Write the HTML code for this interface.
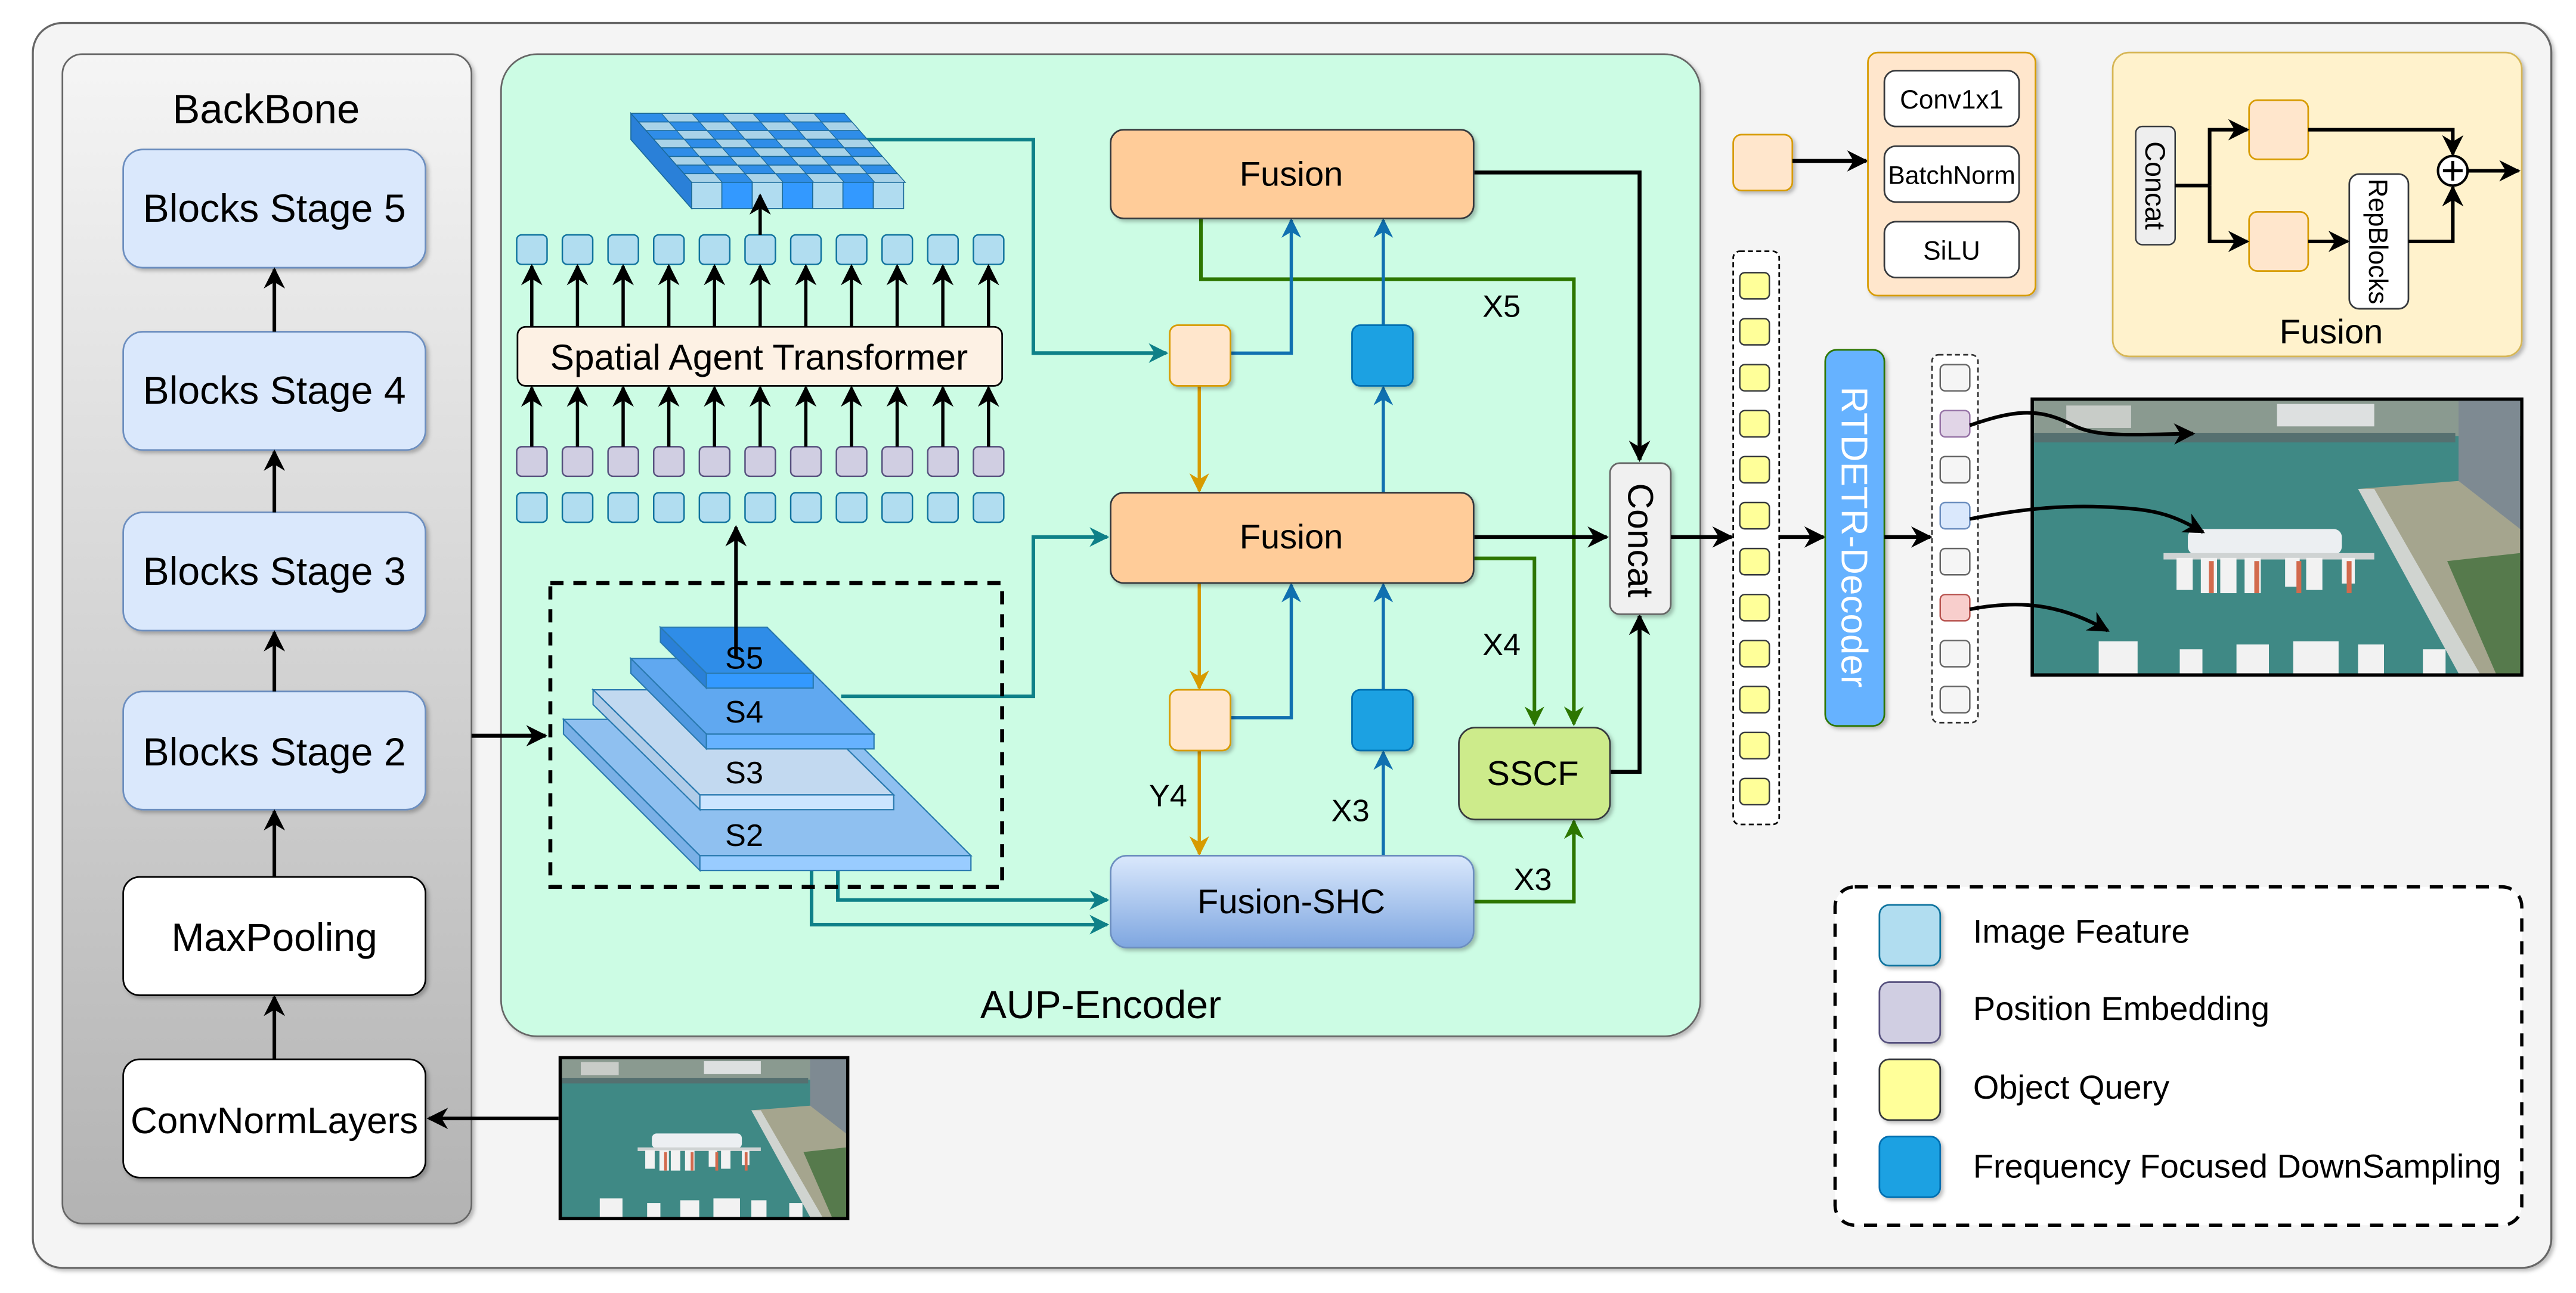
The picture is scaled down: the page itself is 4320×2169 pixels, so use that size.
<!DOCTYPE html>
<html><head><meta charset="utf-8"><style>
html,body{margin:0;padding:0;background:#fff;}
svg{display:block;}
text{font-family:"Liberation Sans",Arial,sans-serif;fill:#000;}
</style></head><body>
<svg width="4320" height="2169" viewBox="0 0 1568 787.3" preserveAspectRatio="none" xmlns="http://www.w3.org/2000/svg">
<defs>
<marker id="ak2" viewBox="0 0 10 10" refX="9" refY="5" markerWidth="13" markerHeight="13" orient="auto" markerUnits="userSpaceOnUse"><path d="M0,0 L10,5 L0,10 L3,5 z" fill="#000"/></marker>
<marker id="at" viewBox="0 0 10 10" refX="9" refY="5" markerWidth="12" markerHeight="12" orient="auto" markerUnits="userSpaceOnUse"><path d="M0,0 L10,5 L0,10 L3,5 z" fill="#0e8088"/></marker>
<marker id="ab" viewBox="0 0 10 10" refX="9" refY="5" markerWidth="12" markerHeight="12" orient="auto" markerUnits="userSpaceOnUse"><path d="M0,0 L10,5 L0,10 L3,5 z" fill="#1070b0"/></marker>
<marker id="ao" viewBox="0 0 10 10" refX="9" refY="5" markerWidth="12" markerHeight="12" orient="auto" markerUnits="userSpaceOnUse"><path d="M0,0 L10,5 L0,10 L3,5 z" fill="#d79b00"/></marker>
<marker id="ag" viewBox="0 0 10 10" refX="9" refY="5" markerWidth="12" markerHeight="12" orient="auto" markerUnits="userSpaceOnUse"><path d="M0,0 L10,5 L0,10 L3,5 z" fill="#2d7600"/></marker>
<linearGradient id="bbg" x1="0" y1="0" x2="0" y2="1"><stop offset="0" stop-color="#f5f5f5"/><stop offset="1" stop-color="#b3b3b3"/></linearGradient>
<linearGradient id="shc" x1="0" y1="0" x2="0" y2="1"><stop offset="0" stop-color="#dae8fc"/><stop offset="1" stop-color="#7ea6e0"/></linearGradient>
<pattern id="chk" patternUnits="userSpaceOnUse" width="37.14" height="10.5">
<rect width="37.14" height="10.5" fill="#a9d3e8"/>
<rect width="18.57" height="5.25" fill="#2f8de8"/>
<rect x="18.57" y="5.25" width="18.57" height="5.25" fill="#2f8de8"/>
</pattern>
<symbol id="photo" viewBox="0 0 300 170" preserveAspectRatio="none">
<rect width="300" height="170" fill="#3f8985"/>
<rect width="300" height="22" fill="#8a9a90"/>
<rect x="20" y="3" width="40" height="14" fill="#c8ccc8"/>
<rect x="150" y="2" width="60" height="14" fill="#dde0e0"/>
<rect x="0" y="20" width="260" height="6" fill="#557070"/>
<rect x="262" y="0" width="38" height="100" fill="#7e8a92"/>
<polygon points="200,55 262,50 300,80 300,170 265,170" fill="#a5a58e"/>
<polygon points="200,55 210,55 275,170 262,170" fill="#d0d4d0"/>
<polygon points="255,100 300,95 300,170 285,170" fill="#567a4c"/>
<rect x="95" y="80" width="95" height="16" rx="5" fill="#eceff2"/>
<rect x="80" y="95" width="130" height="4" fill="#cfd3d3"/>
<g fill="#f2f2f2"><rect x="88" y="98" width="10" height="20"/><rect x="103" y="98" width="10" height="22"/><rect x="115" y="98" width="10" height="22"/><rect x="130" y="98" width="10" height="22"/><rect x="155" y="98" width="9" height="18"/><rect x="168" y="98" width="10" height="20"/><rect x="190" y="98" width="8" height="16"/>
<rect x="40" y="150" width="24" height="20"/><rect x="90" y="155" width="14" height="15"/><rect x="125" y="152" width="20" height="18"/><rect x="160" y="150" width="28" height="20"/><rect x="200" y="152" width="16" height="18"/><rect x="240" y="155" width="14" height="15"/></g>
<g fill="#d26a4d"><rect x="108" y="100" width="3" height="20"/><rect x="136" y="100" width="3" height="20"/><rect x="162" y="100" width="3" height="20"/><rect x="193" y="100" width="3" height="20"/></g>
</symbol>
<filter id="sh" x="-10%" y="-10%" width="130%" height="130%"><feDropShadow dx="1.5" dy="1.5" stdDeviation="1.2" flood-color="#000" flood-opacity="0.25"/></filter>
</defs>

<rect width="1568" height="787.3" fill="#fff"/>
<rect x="20" y="14" width="1533" height="758" rx="18" fill="#f4f4f4" stroke="#666" stroke-width="1.2" filter="url(#sh)"/>

<rect x="38" y="33" width="249" height="712" rx="12" fill="url(#bbg)" stroke="#666" stroke-width="1" filter="url(#sh)"/>
<text x="162" y="75" font-size="25" text-anchor="middle">BackBone</text>
<g stroke="#6c8ebf" stroke-width="1" fill="#dae8fc" filter="url(#sh)">
<rect x="75" y="91" width="184" height="72" rx="12"/>
<rect x="75" y="202" width="184" height="72" rx="12"/>
<rect x="75" y="312" width="184" height="72" rx="12"/>
<rect x="75" y="421" width="184" height="72" rx="12"/>
</g>
<g stroke="#000" stroke-width="1" fill="#fff" filter="url(#sh)">
<rect x="75" y="534" width="184" height="72" rx="10"/>
<rect x="75" y="645" width="184" height="72" rx="10"/>
</g>
<g font-size="24" text-anchor="middle">
<text x="167" y="135">Blocks Stage 5</text>
<text x="167" y="246">Blocks Stage 4</text>
<text x="167" y="356">Blocks Stage 3</text>
<text x="167" y="466">Blocks Stage 2</text>
<text x="167" y="579">MaxPooling</text>
<text x="167" y="690" font-size="22.5">ConvNormLayers</text>
</g>
<g stroke="#000" stroke-width="2.2" marker-end="url(#ak2)">
<line x1="167" y1="202" x2="167" y2="164"/>
<line x1="167" y1="312" x2="167" y2="275"/>
<line x1="167" y1="421" x2="167" y2="385"/>
<line x1="167" y1="534" x2="167" y2="494"/>
<line x1="167" y1="645" x2="167" y2="607"/>
<line x1="340" y1="681" x2="261" y2="681"/>
</g>
<rect x="340" y="643" width="177" height="100" fill="#000"/>
<use href="#photo" x="342" y="645" width="173" height="96"/>

<rect x="305" y="33" width="730" height="598" rx="22" fill="#ccfce4" stroke="#666" stroke-width="1" filter="url(#sh)"/>
<text x="670" y="620" font-size="24" text-anchor="middle">AUP-Encoder</text>
<line x1="287" y1="448" x2="332" y2="448" stroke="#000" stroke-width="2.5" marker-end="url(#ak2)"/>

<g fill="none" stroke="#0e8088" stroke-width="2.2">
<path d="M518,85 H629 V215 H710" marker-end="url(#at)"/>
<path d="M512,424 H629 V327 H674" marker-end="url(#at)"/>
<path d="M510,527 V548 H674" marker-end="url(#at)"/>
<path d="M494,493 V563 H674" marker-end="url(#at)"/>
</g>

<rect x="335" y="355" width="275" height="185" fill="none" stroke="#000" stroke-width="2.4" stroke-dasharray="8,6"/>

<g stroke="#2a7ab0" stroke-width="0.8">
<polygon points="343,438 508,438 591,521 426,521" fill="#8fc0f0"/>
<polygon points="343,438 426,521 426,530 343,447" fill="#7ab0e6"/>
<rect x="426" y="521" width="165" height="9" fill="#99ccff"/>
<polygon points="361,420 479,420 544,484 426,484" fill="#c2d9f0"/>
<polygon points="361,420 426,484 426,493 361,429" fill="#b0cce8"/>
<rect x="426" y="484" width="118" height="9" fill="#cce5ff"/>
<polygon points="384,401 486,401 532,447 430,447" fill="#60a8f0"/>
<polygon points="384,401 430,447 430,456 384,410" fill="#4f98e0"/>
<rect x="430" y="447" width="102" height="9" fill="#66b2ff"/>
<polygon points="402,382 467,382 495,410 430,410" fill="#2f8de8"/>
<polygon points="402,382 430,410 430,419 402,391" fill="#2a80d8"/>
<rect x="430" y="410" width="65" height="9" fill="#3399ff"/>
</g>
<g font-size="19" text-anchor="middle">
<text x="453" y="407">S5</text>
<text x="453" y="440">S4</text>
<text x="453" y="477">S3</text>
<text x="453" y="515">S2</text>
</g>
<line x1="448" y1="400" x2="448" y2="321" stroke="#000" stroke-width="2.2" marker-end="url(#ak2)"/>

<g stroke="#1a6a9a" stroke-width="0.6">
<polygon points="384,69 421,111 421,127 384,85" fill="#2a80d8"/>
<g transform="translate(384,69) skewX(41.38)"><rect width="130" height="42" fill="url(#chk)"/>
<g fill="none"><path d="M18.57,0V42M37.14,0V42M55.71,0V42M74.28,0V42M92.85,0V42M111.42,0V42M0,5.25H130M0,10.5H130M0,15.75H130M0,21H130M0,26.25H130M0,31.5H130M0,36.75H130"/><rect width="130" height="42"/></g></g>
<rect x="421" y="111" width="18.43" height="16" fill="#b0dcf0"/>
<rect x="439.4" y="111" width="18.43" height="16" fill="#3399ff"/>
<rect x="457.9" y="111" width="18.43" height="16" fill="#b0dcf0"/>
<rect x="476.3" y="111" width="18.43" height="16" fill="#3399ff"/>
<rect x="494.7" y="111" width="18.43" height="16" fill="#b0dcf0"/>
<rect x="513.1" y="111" width="18.43" height="16" fill="#3399ff"/>
<rect x="531.6" y="111" width="18.43" height="16" fill="#b0dcf0"/>
</g>

<g stroke="#10739e" stroke-width="0.9" fill="#b1ddf0">
<rect x="314.5" y="143" width="18.5" height="18" rx="3"/><rect x="342.3" y="143" width="18.5" height="18" rx="3"/><rect x="370.1" y="143" width="18.5" height="18" rx="3"/><rect x="397.9" y="143" width="18.5" height="18" rx="3"/><rect x="425.7" y="143" width="18.5" height="18" rx="3"/><rect x="453.5" y="143" width="18.5" height="18" rx="3"/><rect x="481.3" y="143" width="18.5" height="18" rx="3"/><rect x="509.1" y="143" width="18.5" height="18" rx="3"/><rect x="536.9" y="143" width="18.5" height="18" rx="3"/><rect x="564.7" y="143" width="18.5" height="18" rx="3"/><rect x="592.5" y="143" width="18.5" height="18" rx="3"/>
<rect x="314.5" y="300" width="18.5" height="18" rx="3"/><rect x="342.3" y="300" width="18.5" height="18" rx="3"/><rect x="370.1" y="300" width="18.5" height="18" rx="3"/><rect x="397.9" y="300" width="18.5" height="18" rx="3"/><rect x="425.7" y="300" width="18.5" height="18" rx="3"/><rect x="453.5" y="300" width="18.5" height="18" rx="3"/><rect x="481.3" y="300" width="18.5" height="18" rx="3"/><rect x="509.1" y="300" width="18.5" height="18" rx="3"/><rect x="536.9" y="300" width="18.5" height="18" rx="3"/><rect x="564.7" y="300" width="18.5" height="18" rx="3"/><rect x="592.5" y="300" width="18.5" height="18" rx="3"/>
</g>
<g stroke="#56517e" stroke-width="0.9" fill="#d0cee2">
<rect x="314.5" y="272" width="18.5" height="18" rx="3"/><rect x="342.3" y="272" width="18.5" height="18" rx="3"/><rect x="370.1" y="272" width="18.5" height="18" rx="3"/><rect x="397.9" y="272" width="18.5" height="18" rx="3"/><rect x="425.7" y="272" width="18.5" height="18" rx="3"/><rect x="453.5" y="272" width="18.5" height="18" rx="3"/><rect x="481.3" y="272" width="18.5" height="18" rx="3"/><rect x="509.1" y="272" width="18.5" height="18" rx="3"/><rect x="536.9" y="272" width="18.5" height="18" rx="3"/><rect x="564.7" y="272" width="18.5" height="18" rx="3"/><rect x="592.5" y="272" width="18.5" height="18" rx="3"/>
</g>
<rect x="315" y="199" width="295" height="36" rx="5" fill="#fdf1e4" stroke="#000" stroke-width="1"/>
<text x="462" y="225" font-size="22" text-anchor="middle">Spatial Agent Transformer</text>
<g stroke="#000" stroke-width="2" marker-end="url(#ak2)">
<line x1="323.7" y1="199" x2="323.7" y2="162"/><line x1="351.5" y1="199" x2="351.5" y2="162"/><line x1="379.3" y1="199" x2="379.3" y2="162"/><line x1="407.1" y1="199" x2="407.1" y2="162"/><line x1="434.9" y1="199" x2="434.9" y2="162"/><line x1="462.7" y1="199" x2="462.7" y2="162"/><line x1="490.5" y1="199" x2="490.5" y2="162"/><line x1="518.3" y1="199" x2="518.3" y2="162"/><line x1="546.1" y1="199" x2="546.1" y2="162"/><line x1="573.9" y1="199" x2="573.9" y2="162"/><line x1="601.7" y1="199" x2="601.7" y2="162"/>
<line x1="323.7" y1="272" x2="323.7" y2="236"/><line x1="351.5" y1="272" x2="351.5" y2="236"/><line x1="379.3" y1="272" x2="379.3" y2="236"/><line x1="407.1" y1="272" x2="407.1" y2="236"/><line x1="434.9" y1="272" x2="434.9" y2="236"/><line x1="462.7" y1="272" x2="462.7" y2="236"/><line x1="490.5" y1="272" x2="490.5" y2="236"/><line x1="518.3" y1="272" x2="518.3" y2="236"/><line x1="546.1" y1="272" x2="546.1" y2="236"/><line x1="573.9" y1="272" x2="573.9" y2="236"/><line x1="601.7" y1="272" x2="601.7" y2="236"/>
<line x1="462.7" y1="143" x2="462.7" y2="119"/>
</g>

<g fill="none" stroke="#2d7600" stroke-width="2.2">
<path d="M731,133 V170 H958 V441" marker-end="url(#ag)"/>
<path d="M897,340 H934 V441" marker-end="url(#ag)"/>
<path d="M897,549 H958 V500" marker-end="url(#ag)"/>
</g>
<g fill="none" stroke="#000" stroke-width="2.4">
<path d="M897,105 H998 V280" marker-end="url(#ak2)"/>
<path d="M897,327 H978" marker-end="url(#ak2)"/>
<path d="M979,470 H998 V375" marker-end="url(#ak2)"/>
</g>
<g fill="none" stroke="#d79b00" stroke-width="2">
<path d="M730,235 V299" marker-end="url(#ao)"/>
<path d="M730,355 V419" marker-end="url(#ao)"/>
<path d="M730,457 V520" marker-end="url(#ao)"/>
</g>
<g fill="none" stroke="#1070b0" stroke-width="2">
<path d="M749,215 H786 V134" marker-end="url(#ab)"/>
<path d="M842,198 V134" marker-end="url(#ab)"/>
<path d="M842,300 V236" marker-end="url(#ab)"/>
<path d="M749,437 H786 V356" marker-end="url(#ab)"/>
<path d="M842,420 V356" marker-end="url(#ab)"/>
<path d="M842,521 V458" marker-end="url(#ab)"/>
</g>

<g filter="url(#sh)">
<rect x="676" y="79" width="221" height="54" rx="8" fill="#ffcc99" stroke="#36393d" stroke-width="1"/>
<rect x="676" y="300" width="221" height="55" rx="8" fill="#ffcc99" stroke="#36393d" stroke-width="1"/>
<rect x="676" y="521" width="221" height="56" rx="10" fill="url(#shc)" stroke="#6c8ebf" stroke-width="1"/>
<rect x="712" y="198" width="37" height="37" rx="5" fill="#ffe6cc" stroke="#d79b00" stroke-width="1"/>
<rect x="712" y="420" width="37" height="37" rx="5" fill="#ffe6cc" stroke="#d79b00" stroke-width="1"/>
<rect x="823" y="198" width="37" height="37" rx="5" fill="#1ba1e2" stroke="#006eaf" stroke-width="1"/>
<rect x="823" y="420" width="37" height="37" rx="5" fill="#1ba1e2" stroke="#006eaf" stroke-width="1"/>
<rect x="888" y="443" width="92" height="56" rx="10" fill="#cdeb8b" stroke="#36393d" stroke-width="1"/>
<rect x="980" y="282" width="37" height="92" rx="6" fill="#f0f0f0" stroke="#666" stroke-width="1"/>
</g>
<g font-size="21" text-anchor="middle">
<text x="786" y="113">Fusion</text>
<text x="786" y="334">Fusion</text>
<text x="786" y="556">Fusion-SHC</text>
<text x="933" y="478">SSCF</text>
</g>
<text transform="translate(991,329) rotate(90)" font-size="22" text-anchor="middle">Concat</text>
<g font-size="19" text-anchor="middle">
<text x="914" y="193">X5</text>
<text x="914" y="399">X4</text>
<text x="711" y="491">Y4</text>
<text x="822" y="500">X3</text>
<text x="933" y="542">X3</text>
</g>

<line x1="1017" y1="327" x2="1054" y2="327" stroke="#000" stroke-width="2.4" marker-end="url(#ak2)"/>
<rect x="1055" y="153" width="28" height="349" rx="4" fill="#fff" stroke="#000" stroke-width="1" stroke-dasharray="3,2"/>
<g fill="#ffff99" stroke="#36393d" stroke-width="0.9">
<rect x="1059" y="166" width="18" height="16" rx="3"/><rect x="1059" y="194" width="18" height="16" rx="3"/><rect x="1059" y="222" width="18" height="16" rx="3"/><rect x="1059" y="250" width="18" height="16" rx="3"/><rect x="1059" y="278" width="18" height="16" rx="3"/><rect x="1059" y="306" width="18" height="16" rx="3"/><rect x="1059" y="334" width="18" height="16" rx="3"/><rect x="1059" y="362" width="18" height="16" rx="3"/><rect x="1059" y="390" width="18" height="16" rx="3"/><rect x="1059" y="418" width="18" height="16" rx="3"/><rect x="1059" y="446" width="18" height="16" rx="3"/><rect x="1059" y="474" width="18" height="16" rx="3"/>
</g>
<line x1="1083" y1="327" x2="1110" y2="327" stroke="#000" stroke-width="2.4" marker-end="url(#ak2)"/>
<rect x="1111" y="213" width="36" height="229" rx="7" fill="#66b2ff" stroke="#2d7600" stroke-width="1" filter="url(#sh)"/>
<text transform="translate(1121,327) rotate(90)" font-size="22.5" text-anchor="middle" style="fill:#fff">RTDETR-Decoder</text>
<line x1="1147" y1="327" x2="1175" y2="327" stroke="#000" stroke-width="2.4" marker-end="url(#ak2)"/>
<rect x="1176" y="216" width="28" height="224" rx="4" fill="#fff" stroke="#333" stroke-width="1" stroke-dasharray="3,2"/>
<g stroke-width="0.9">
<rect x="1181" y="222" width="18" height="16" rx="3" fill="#f5f5f5" stroke="#666"/>
<rect x="1181" y="250" width="18" height="16" rx="3" fill="#e1d5e7" stroke="#9673a6"/>
<rect x="1181" y="278" width="18" height="16" rx="3" fill="#f5f5f5" stroke="#666"/>
<rect x="1181" y="306" width="18" height="16" rx="3" fill="#dae8fc" stroke="#6c8ebf"/>
<rect x="1181" y="334" width="18" height="16" rx="3" fill="#f5f5f5" stroke="#666"/>
<rect x="1181" y="362" width="18" height="16" rx="3" fill="#f8cecc" stroke="#b85450"/>
<rect x="1181" y="390" width="18" height="16" rx="3" fill="#f5f5f5" stroke="#666"/>
<rect x="1181" y="418" width="18" height="16" rx="3" fill="#f5f5f5" stroke="#666"/>
</g>
<rect x="1236" y="242" width="300" height="170" fill="#000"/>
<use href="#photo" x="1238" y="244" width="296" height="166"/>
<g fill="none" stroke="#000" stroke-width="2.2" marker-end="url(#ak2)">
<path d="M1199,259 C1225,250 1240,248 1260,258 C1275,266 1290,265 1335,264"/>
<path d="M1199,316 C1230,310 1260,306 1300,310 C1320,312 1330,318 1341,324"/>
<path d="M1199,371 C1230,365 1255,368 1283,384"/>
</g>

<rect x="1055" y="82" width="36" height="34" rx="5" fill="#ffe6cc" stroke="#d79b00" stroke-width="1" filter="url(#sh)"/>
<line x1="1091" y1="98" x2="1136" y2="98" stroke="#000" stroke-width="2.4" marker-end="url(#ak2)"/>
<rect x="1137" y="32" width="102" height="148" rx="6" fill="#ffe6cc" stroke="#d79b00" stroke-width="1" filter="url(#sh)"/>
<g fill="#fff" stroke="#36393d" stroke-width="1">
<rect x="1147" y="43" width="82" height="34" rx="7"/>
<rect x="1147" y="89" width="82" height="34" rx="7"/>
<rect x="1147" y="135" width="82" height="34" rx="7"/>
</g>
<g font-size="16" text-anchor="middle">
<text x="1188" y="66">Conv1x1</text>
<text x="1188" y="112" font-size="15.5">BatchNorm</text>
<text x="1188" y="158">SiLU</text>
</g>

<rect x="1286" y="32" width="249" height="185" rx="10" fill="#fff2cc" stroke="#d6b656" stroke-width="1" filter="url(#sh)"/>
<text x="1419" y="209" font-size="21" text-anchor="middle">Fusion</text>
<rect x="1300" y="77" width="24" height="72" rx="4" fill="#eee" stroke="#36393d" stroke-width="0.9"/>
<text transform="translate(1306,113) rotate(90)" font-size="17" text-anchor="middle">Concat</text>
<rect x="1369" y="61" width="36" height="36" rx="5" fill="#ffe6cc" stroke="#d79b00"/>
<rect x="1369" y="129" width="36" height="36" rx="5" fill="#ffe6cc" stroke="#d79b00"/>
<rect x="1430" y="106" width="36" height="82" rx="6" fill="#fff" stroke="#36393d"/>
<text transform="translate(1442,147) rotate(90)" font-size="16" text-anchor="middle">RepBlocks</text>
<g fill="none" stroke="#000" stroke-width="2.2">
<path d="M1324,113 H1345"/>
<path d="M1345,113 V79 H1368" marker-end="url(#ak2)"/>
<path d="M1345,113 V147 H1368" marker-end="url(#ak2)"/>
<path d="M1405,147 H1429" marker-end="url(#ak2)"/>
<path d="M1405,79 H1493 V94" marker-end="url(#ak2)"/>
<path d="M1466,147 H1493 V114" marker-end="url(#ak2)"/>
<path d="M1502,104 H1533" marker-end="url(#ak2)"/>
</g>
<circle cx="1493" cy="104" r="9" fill="#fff" stroke="#000" stroke-width="1.5"/>
<path d="M1487,104 H1499 M1493,98 V110" stroke="#000" stroke-width="1.8"/>

<rect x="1117" y="540" width="418" height="206" rx="12" fill="#fff" stroke="#000" stroke-width="2" stroke-dasharray="8,6"/>
<g stroke-width="1" filter="url(#sh)">
<rect x="1144" y="551" width="37" height="37" rx="6" fill="#b1ddf0" stroke="#10739e"/>
<rect x="1144" y="598" width="37" height="37" rx="6" fill="#d0cee2" stroke="#56517e"/>
<rect x="1144" y="645" width="37" height="37" rx="6" fill="#ffff99" stroke="#36393d"/>
<rect x="1144" y="692" width="37" height="37" rx="6" fill="#1ba1e2" stroke="#006eaf"/>
</g>
<g font-size="20.3">
<text x="1201" y="574">Image Feature</text>
<text x="1201" y="621">Position Embedding</text>
<text x="1201" y="669">Object Query</text>
<text x="1201" y="717">Frequency Focused DownSampling</text>
</g>
</svg>
</body></html>
